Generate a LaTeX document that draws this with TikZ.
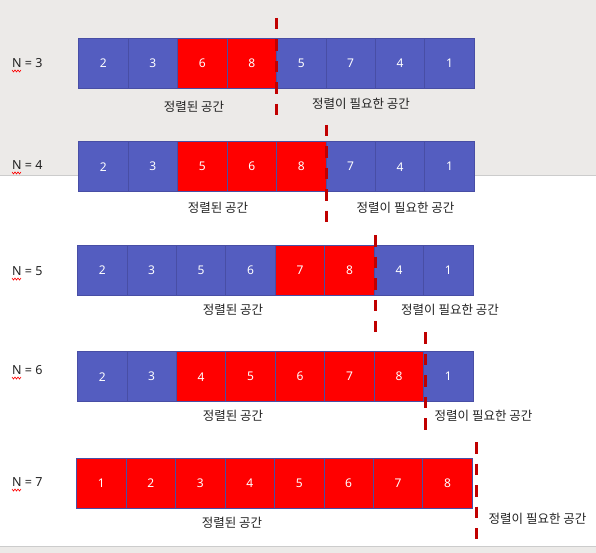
\documentclass[tikz,border=0pt]{standalone}
\usepackage{fontspec}
\setmainfont{Noto Sans}
\newfontfamily\krfont{Noto Sans CJK KR}
\definecolor{cellblue}{RGB}{84,93,192}
\definecolor{cellred}{RGB}{255,0,0}
\definecolor{divred}{RGB}{192,0,0}
\definecolor{bggray}{RGB}{236,234,232}
\definecolor{edgeline}{RGB}{72,78,165}
\definecolor{txt}{RGB}{34,34,34}
\definecolor{rule}{RGB}{204,204,204}
\tikzset{
  cell/.style={draw=edgeline, line width=0.8pt, minimum width=49.45pt, minimum height=50pt,
    inner sep=0pt, text=white, font=\fontsize{12}{14}\selectfont},
  divider/.style={draw=divred, line width=3pt, dash pattern=on 11.5pt off 10pt},
  area/.style={text=txt, font=\krfont\fontsize{12.5}{14}\selectfont, inner sep=0pt},
  nlabel/.style={text=txt, font=\fontsize{12.5}{14}\selectfont, inner sep=0pt, anchor=west},
  squiggle/.style={draw=red, line width=0.6pt},
}
\begin{document}
\begin{tikzpicture}[x=1pt,y=-1pt]
\useasboundingbox (0,0) rectangle (596,553);
\fill[bggray] (0,0) rectangle (596,176);
\draw[rule, line width=1pt] (0,176) -- (596,176);
\fill[bggray] (0,546) rectangle (596,553);
\draw[rule, line width=1.2pt] (0,546.6) -- (596,546.6);

\foreach \r/\x/\y/\vals/\ra/\rb/\n/\ny/\dx/\dya/\dyb/\sx/\sy/\ux/\uy in {
  1/78.7/63.3/{2,3,6,8,5,7,4,1}/3/4/3/63/276/18/116/194/107/361/104,
  2/78.7/166.7/{2,3,5,6,8,7,4,1}/3/5/4/165/326/125/222/218/208/405.5/208,
  3/77.5/270.5/{2,3,5,6,7,8,4,1}/5/6/5/271/375/235/332/233/310/450/310,
  4/77.5/376.7/{2,3,4,5,6,7,8,1}/3/7/6/370/425/332/437/233/416/483.5/416,
  5/76.7/483.3/{1,2,3,4,5,6,7,8}/1/8/7/482/476/442/539/232/523/537.5/519}{
  \foreach \v [count=\i] in \vals {
    \pgfmathsetmacro{\cx}{\x+24.725+(\i-1)*49.45}
    \ifnum\i<\ra
      \node[cell, fill=cellblue] (r\r c\i) at (\cx,\y) {\v};
    \else\ifnum\i>\rb
      \node[cell, fill=cellblue] (r\r c\i) at (\cx,\y) {\v};
    \else
      \node[cell, fill=cellred] (r\r c\i) at (\cx,\y) {\v};
    \fi\fi
  }
  \node[nlabel] (n\r) at (12,\ny) {N = \n};
  \draw[squiggle] (12,\ny+7) -- ++(1.5,2) -- ++(1.5,-2) -- ++(1.5,2) -- ++(1.5,-2) -- ++(1.5,2) -- ++(1.5,-2);
  \coordinate (d\r a) at (\dx,\dya);
  \coordinate (d\r b) at (\dx,\dyb);
  \draw[divider] (d\r a) -- (d\r b);
  \node[area] (s\r) at (\sx,\sy) {정렬된 공간};
  \node[area] (u\r) at (\ux,\uy) {정렬이 필요한 공간};
}
\end{tikzpicture}
\end{document}
